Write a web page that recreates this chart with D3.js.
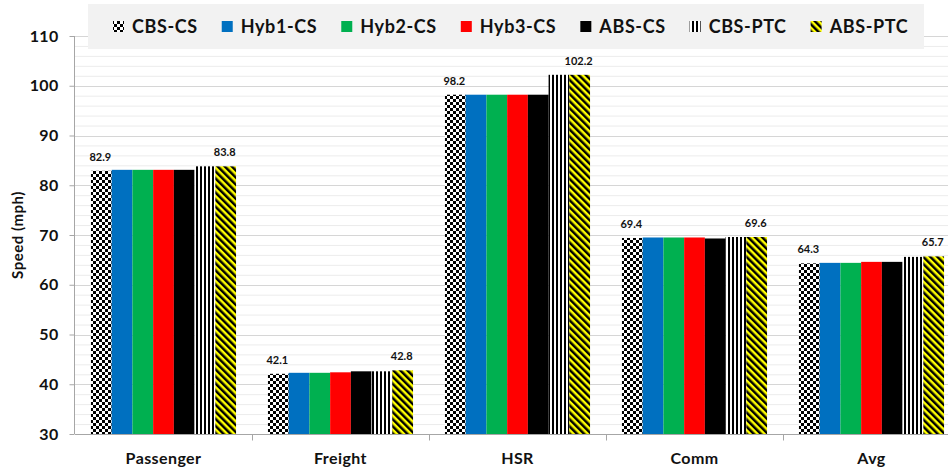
<!doctype html>
<html>
<head>
<meta charset="utf-8" />
<title>Speed by service</title>
<script src="https://cdn.jsdelivr.net/npm/d3@7"></script>
<style>
  body { margin: 0; background: #fff; }
  text { font-family: Lato, "Open Sans", sans-serif; font-weight: bold; fill: #111; }
</style>
</head>
<body>
<svg id="chart" width="948" height="468"></svg>
<script>
// data
var categories = ['Passenger', 'Freight', 'HSR', 'Comm', 'Avg'];
var seriesNames = ['CBS-CS', 'Hyb1-CS', 'Hyb2-CS', 'Hyb3-CS', 'ABS-CS', 'CBS-PTC', 'ABS-PTC'];
var cbsCs  = [82.9, 42.1, 98.2, 69.4, 64.3];
var hyb1Cs = [83.1, 42.3, 98.2, 69.5, 64.4];
var hyb2Cs = [83.1, 42.3, 98.2, 69.5, 64.4];
var hyb3Cs = [83.1, 42.4, 98.2, 69.5, 64.6];
var absCs  = [83.1, 42.6, 98.2, 69.3, 64.6];
var cbsPtc = [83.8, 42.6, 102.2, 69.6, 65.6];
var absPtc = [83.8, 42.8, 102.2, 69.6, 65.7];
var yTicks = [30, 40, 50, 60, 70, 80, 90, 100, 110];
var labelled = ['CBS-CS', 'ABS-PTC'];   // only these bars carry value labels

var seriesValues = [cbsCs, hyb1Cs, hyb2Cs, hyb3Cs, absCs, cbsPtc, absPtc];
var fills = ['url(#checker)', '#0070c0', '#00b050', '#ff0000', '#000000', 'url(#vstripe)', 'url(#diag)'];

var svg = d3.select('#chart');
var margin = {left: 75, top: 36, bottom: 34};
var height = 468;

// patterns
var defs = svg.append('defs');
var p = defs.append('pattern').attr('id', 'checker').attr('patternUnits', 'userSpaceOnUse')
    .attr('width', 6).attr('height', 6);
p.append('rect').attr('width', 6).attr('height', 6).attr('fill', '#fff');
p.append('rect').attr('width', 3).attr('height', 3).attr('fill', '#000');
p.append('rect').attr('x', 3).attr('y', 3).attr('width', 3).attr('height', 3).attr('fill', '#000');

p = defs.append('pattern').attr('id', 'vstripe').attr('patternUnits', 'userSpaceOnUse')
    .attr('width', 4).attr('height', 4);
p.append('rect').attr('width', 4).attr('height', 4).attr('fill', '#fff');
p.append('rect').attr('width', 2).attr('height', 4).attr('fill', '#000');

p = defs.append('pattern').attr('id', 'diag').attr('patternUnits', 'userSpaceOnUse')
    .attr('width', 5).attr('height', 5).attr('patternTransform', 'rotate(-45)');
p.append('rect').attr('width', 5).attr('height', 5).attr('fill', '#ffff00');
p.append('rect').attr('width', 2.5).attr('height', 5).attr('fill', '#000');

// scales
var x = d3.scaleBand().domain(categories).range([margin.left, margin.left + 177 * categories.length]);
var xs = d3.scaleBand().domain(seriesNames).range([0, x.bandwidth()]).paddingOuter(0.77);
var y = d3.scaleLinear().domain([30, 110]).range([height - margin.bottom, margin.top]);

// gridlines: minor every 2, major every 10
var minor = d3.range(32, 110, 2).filter(function(v) { return v % 10 !== 0; });
svg.append('g').selectAll('line').data(minor).enter().append('line')
    .attr('x1', margin.left).attr('x2', 948)
    .attr('y1', function(d) { return y(d) + 0.5; }).attr('y2', function(d) { return y(d) + 0.5; })
    .attr('stroke', '#ececec');
svg.append('g').selectAll('line').data(yTicks.slice(1)).enter().append('line')
    .attr('x1', margin.left).attr('x2', 948)
    .attr('y1', function(d) { return Math.round(y(d)) + 0.5; }).attr('y2', function(d) { return Math.round(y(d)) + 0.5; })
    .attr('stroke', '#d6d6d6');

// bars
var groups = svg.append('g').selectAll('g').data(seriesNames).enter().append('g');
groups.selectAll('rect')
    .data(function(s, i) {
        return categories.map(function(c, j) { return {s: s, i: i, c: c, v: seriesValues[i][j]}; });
    })
    .enter().append('rect')
    .attr('x', function(d) { return x(d.c) + xs(d.s); })
    .attr('width', xs.bandwidth())
    .attr('y', function(d) { return y(d.v); })
    .attr('height', function(d) { return y(30) - y(d.v); })
    .attr('fill', function(d) { return fills[d.i]; });

// value labels
groups.filter(function(s) { return labelled.indexOf(s) >= 0; })
    .selectAll('text.val')
    .data(function(s) {
        var i = seriesNames.indexOf(s);
        return categories.map(function(c, j) { return {s: s, c: c, v: seriesValues[i][j]}; });
    })
    .enter().append('text')
    .attr('class', 'val')
    .attr('x', function(d) { return x(d.c) + xs(d.s) + xs.bandwidth() / 2 - 1; })
    .attr('y', function(d) { return y(d.v) - 10; })
    .attr('text-anchor', 'middle')
    .style('font-size', '11px')
    .text(function(d) { return d.v.toFixed(1); });

// y axis
var yAxis = svg.append('g').attr('transform', 'translate(' + (margin.left - 0.5) + ',0)')
    .call(d3.axisLeft(y).tickValues(yTicks).tickSize(5).tickPadding(11));
yAxis.selectAll('text').style('font-size', '16px').style('letter-spacing', '0.3px');
yAxis.selectAll('line, path').attr('stroke', '#a6a6a6');
yAxis.select('.domain').attr('d', 'M0,' + y(110) + 'V' + y(30));

// x axis with ticks at category boundaries
var xAxisG = svg.append('g').attr('transform', 'translate(0,' + (y(30) + 0.5) + ')');
xAxisG.append('line').attr('x1', margin.left).attr('x2', 948).attr('stroke', '#a6a6a6');
xAxisG.selectAll('line.tick').data(categories.slice(1).concat([null])).enter().append('line')
    .attr('class', 'tick')
    .attr('x1', function(d, i) { return Math.round(x(categories[i]) + x.bandwidth()) + 0.5; })
    .attr('x2', function(d, i) { return Math.round(x(categories[i]) + x.bandwidth()) + 0.5; })
    .attr('y1', 0).attr('y2', 6).attr('stroke', '#a6a6a6');
xAxisG.selectAll('text').data(categories).enter().append('text')
    .attr('x', function(d) { return x(d) + x.bandwidth() / 2; })
    .attr('y', 29)
    .attr('text-anchor', 'middle')
    .style('font-size', '16px')
    .style('letter-spacing', '0.4px')
    .text(function(d) { return d; });

// y title
svg.append('text')
    .attr('transform', 'translate(23,' + ((y(30) + y(110)) / 2) + ') rotate(-90)')
    .attr('text-anchor', 'middle')
    .style('font-size', '15px')
    .style('letter-spacing', '0.5px')
    .text('Speed (mph)');

// legend
var legend = svg.append('g');
legend.append('rect').attr('x', 88).attr('y', 4).attr('width', 836).attr('height', 45).attr('fill', '#f2f2f2');
var lx = 113;
seriesNames.forEach(function(s, i) {
    legend.append('rect').attr('x', lx).attr('y', 21).attr('width', 11).attr('height', 11).attr('fill', fills[i]);
    var t = legend.append('text').attr('x', lx + 19).attr('y', 33)
        .style('font-size', '18px').style('letter-spacing', '0.6px').text(s);
    lx += 19 + t.node().getComputedTextLength() + 24;
});
</script>
</body>
</html>
